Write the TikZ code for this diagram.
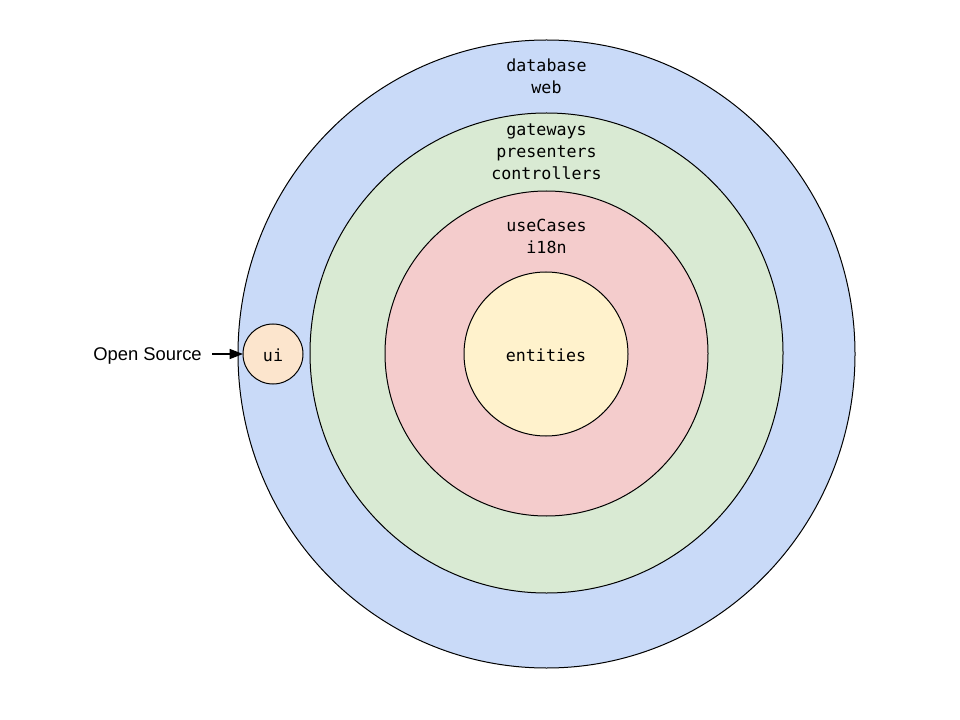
\documentclass[tikz,border=0pt]{standalone}
\usepackage{fontspec}
\setmainfont{Liberation Sans}
\newfontfamily\codefont{DejaVu Sans Mono}
\usetikzlibrary{shapes.geometric, arrows.meta}

\begin{document}
\begin{tikzpicture}[
    x=0.75pt, y=-0.75pt,
    >={Triangle[length=10pt, width=7.5pt]},
    layer/.style={ellipse, draw, line width=0.75pt, inner sep=0pt, outer sep=0pt},
    tag/.style={align=center, font=\codefont\fontsize{12.5}{16.5}\selectfont},
    arrow/.style={->, line width=1pt}
]
    \useasboundingbox (0,0) rectangle (960,720);

    % Layers
    \node (outer) [layer, fill={rgb,255:red,201;green,218;blue,248}, minimum width=617*0.75pt, minimum height=628*0.75pt] at (546.5,354) {};
    \node (adapters) [layer, fill={rgb,255:red,217;green,234;blue,211}, minimum width=473*0.75pt, minimum height=480*0.75pt] at (546.5,353) {};
    \node (cases) [layer, fill={rgb,255:red,244;green,204;blue,204}, minimum width=323*0.75pt, minimum height=325*0.75pt] at (546.5,353.5) {};
    \node (core) [layer, fill={rgb,255:red,255;green,242;blue,204}, minimum width=164*0.75pt, minimum height=164*0.75pt] at (546,354) {};
    \node (ui) [layer, fill={rgb,255:red,252;green,229;blue,205}, minimum width=60*0.75pt, minimum height=60*0.75pt] at (273,354) {};

    % Labels
    \node (outer_txt) [tag] at (546.5,76) {database\\web};
    \node (adapters_txt) [tag] at (546.5,152) {gateways\\presenters\\controllers};
    \node (cases_txt) [tag] at (546.5,236) {useCases\\i18n};
    \node (core_txt) [tag] at (546,355) {entities};
    \node (ui_txt) [tag] at (273,355) {ui};

    % Open Source
    \node (src) [anchor=east, inner xsep=7.5pt, font=\fontsize{13.8}{16}\selectfont] at (212,356) {Open Source};
    \draw [arrow] (src.east |- ui) -- (ui);

\end{tikzpicture}
\end{document}
